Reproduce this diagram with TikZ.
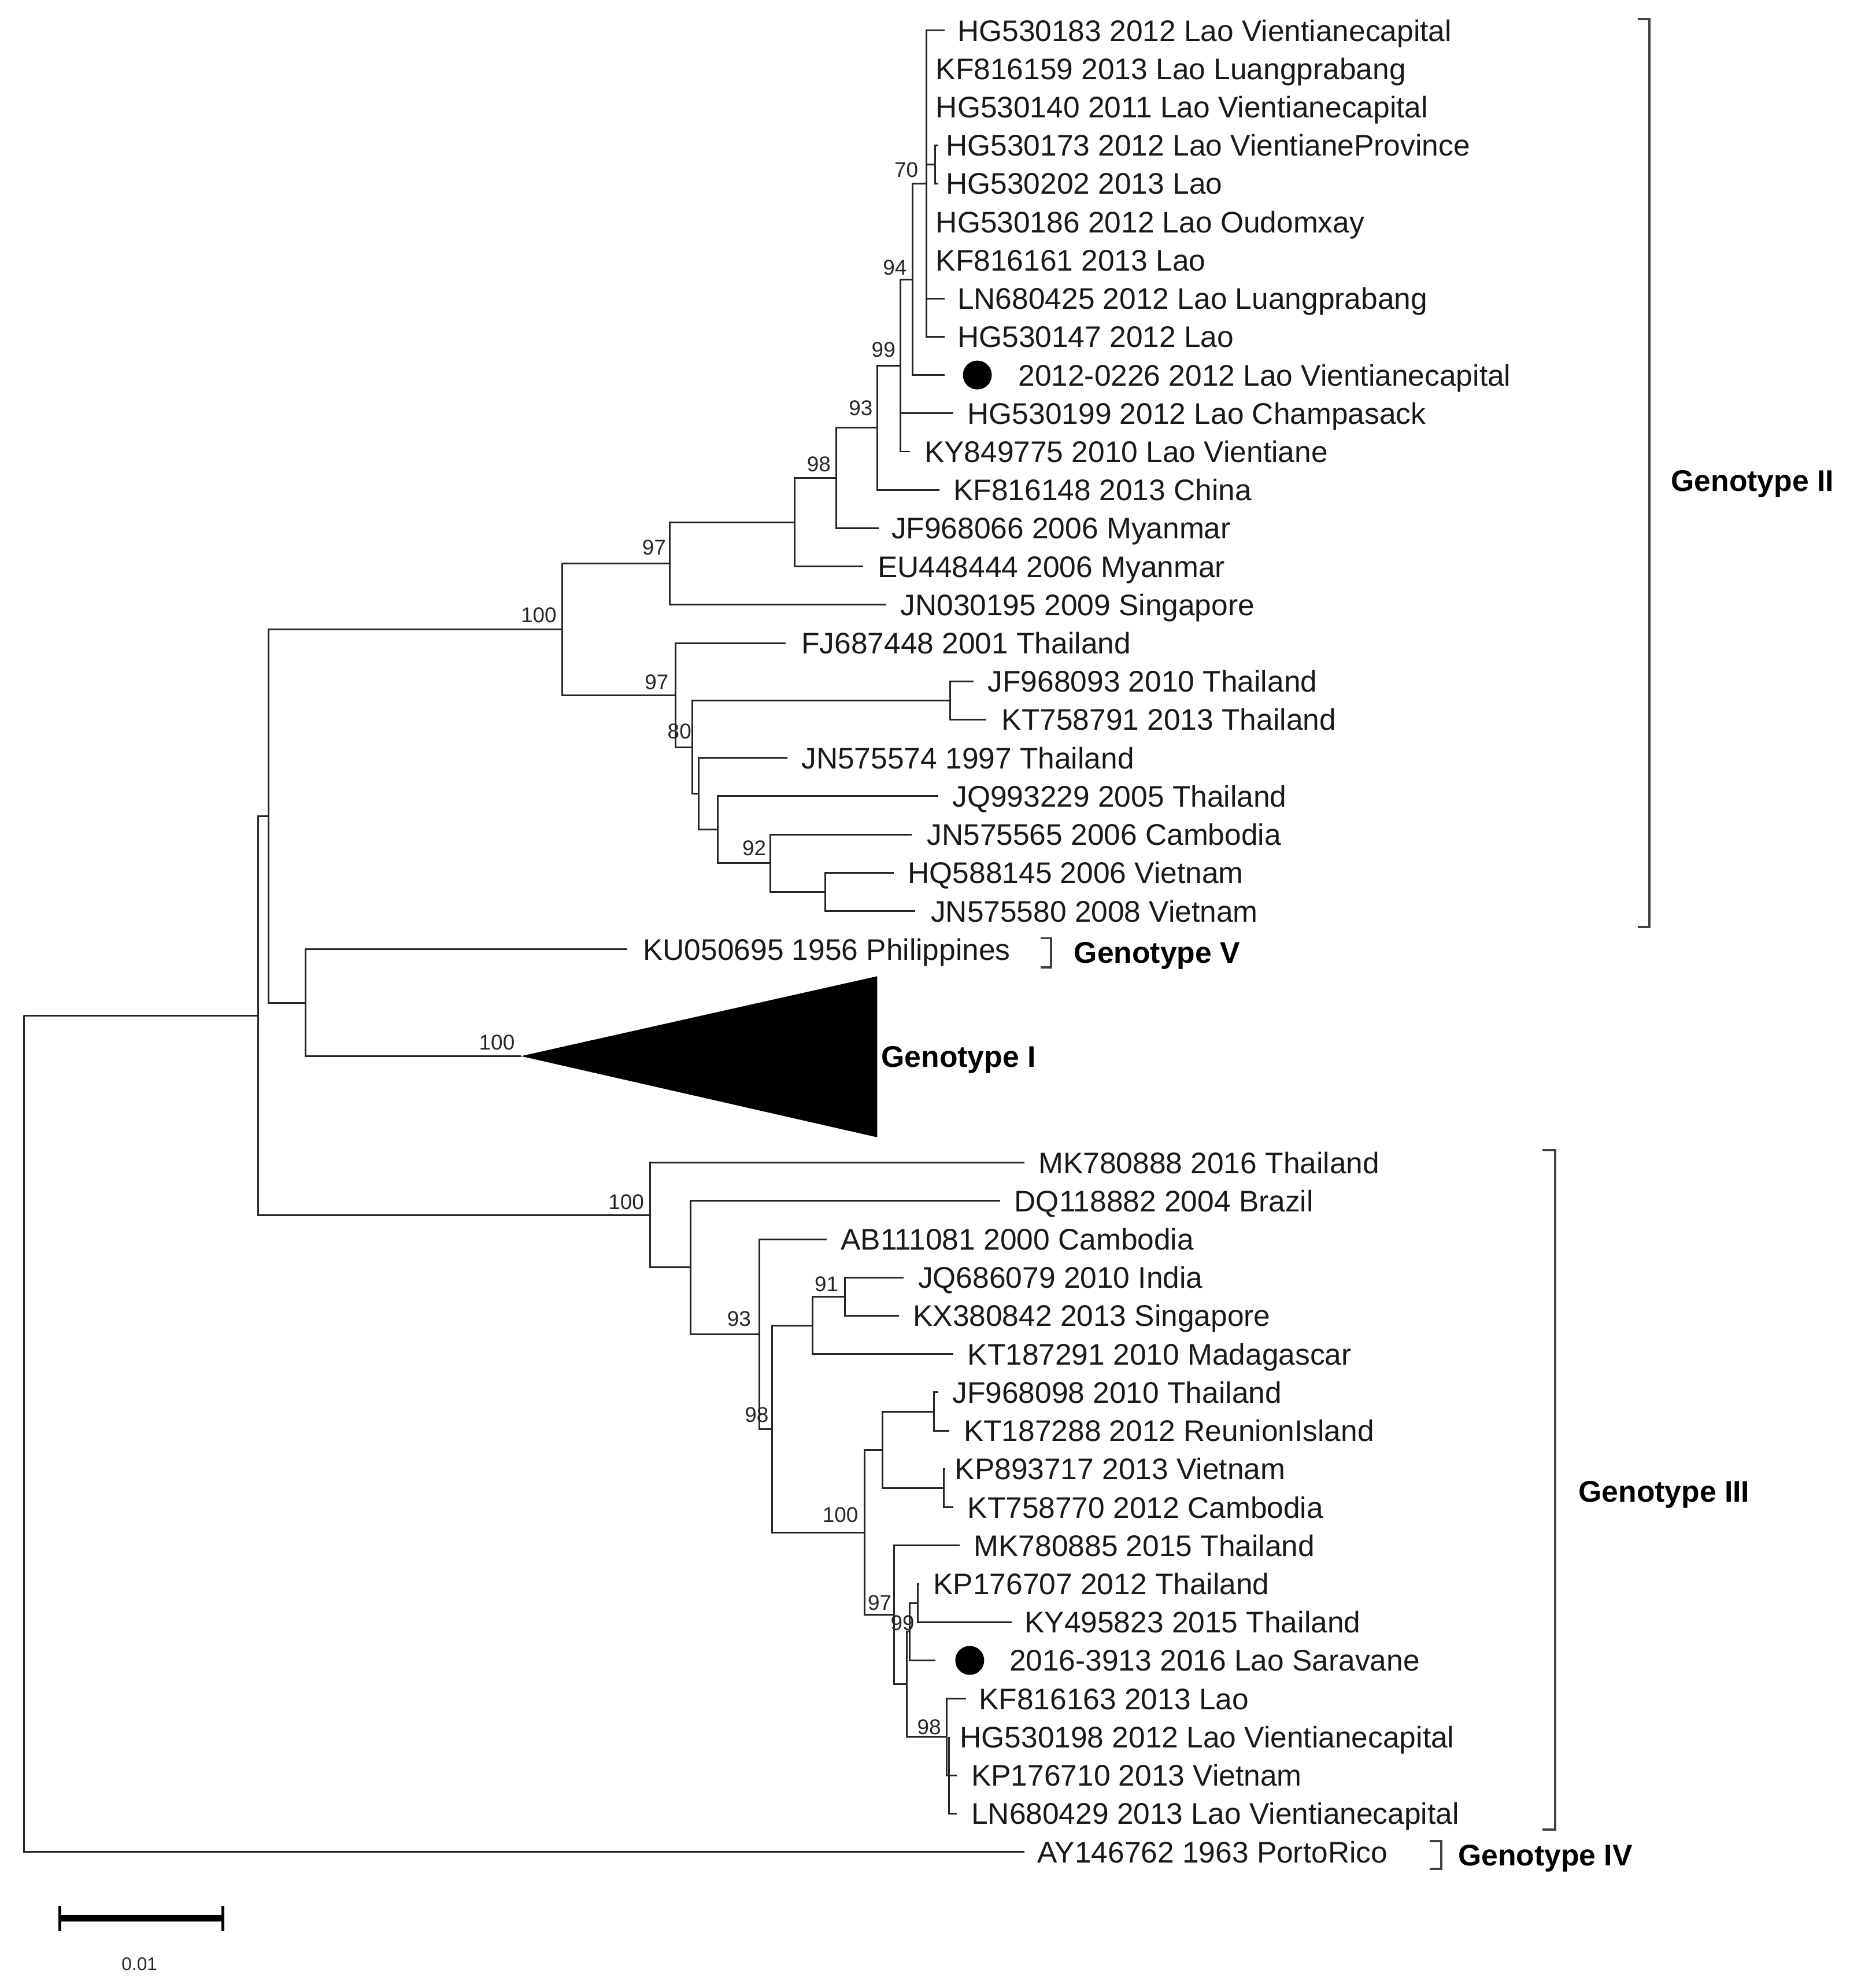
\documentclass[tikz,border=0pt]{standalone}
\usepackage{fontspec}
\setmainfont{Liberation Sans}
\begin{document}
\begin{tikzpicture}[x=0.02192cm,y=-0.02192cm,
  branch/.style={line width=0.85pt, draw=black!85},
  leaf/.style={anchor=west, inner sep=0pt, text height=10.5pt, text depth=0pt, font=\fontsize{14.65}{17}\selectfont, text=black!90},
  boot/.style={inner sep=0pt, font=\fontsize{10.5}{12}\selectfont, text=black!85},
  geno/.style={anchor=west, inner sep=0pt, text height=10.6pt, text depth=0pt, font=\fontsize{14.7}{17}\selectfont\bfseries},
  bracket/.style={line width=1.1pt, draw=black!75},
  dotmark/.style={circle, fill=black, inner sep=0pt, minimum size=0.5cm}]
\useasboundingbox (0,0) rectangle (1459,1568);
\fill[white] (0,0) rectangle (1459,1568);

% ---------- leaves: index / tip x / text x / y / text
\foreach \i/\tx/\lx/\yy/\txt in {
 1/745/755/24.0/HG530183 2012 Lao Vientianecapital,
 2/731/738/54.2/KF816159 2013 Lao Luangprabang,
 3/731/738/84.4/HG530140 2011 Lao Vientianecapital,
 4/740/746/114.6/HG530173 2012 Lao VientianeProvince,
 5/740/746/144.8/HG530202 2013 Lao,
 6/731/738/175.0/HG530186 2012 Lao Oudomxay,
 7/731/738/205.2/KF816161 2013 Lao,
 8/745/755/235.4/LN680425 2012 Lao Luangprabang,
 9/745/755/265.6/HG530147 2012 Lao,
 10/745/803/295.8/2012-0226 2012 Lao Vientianecapital,
 11/752/763/326.0/HG530199 2012 Lao Champasack,
 12/718/729/356.2/KY849775 2010 Lao Vientiane,
 13/741/752/386.4/KF816148 2013 China,
 14/693/703/416.6/JF968066 2006 Myanmar,
 15/681/692/446.8/EU448444 2006 Myanmar,
 16/699/710/477.0/JN030195 2009 Singapore,
 17/620/632/507.2/FJ687448 2001 Thailand,
 18/768/779/537.4/JF968093 2010 Thailand,
 19/778/790/567.6/KT758791 2013 Thailand,
 20/621/632/597.8/JN575574 1997 Thailand,
 21/740/751/628.0/JQ993229 2005 Thailand,
 22/719/731/658.2/JN575565 2006 Cambodia,
 23/705/716/688.4/HQ588145 2006 Vietnam,
 24/722/734/718.6/JN575580 2008 Vietnam,
 25/495/507/748.8/KU050695 1956 Philippines,
 26/808/819/917.0/MK780888 2016 Thailand,
 27/789/800/947.2/DQ118882 2004 Brazil,
 28/652/663/977.4/AB111081 2000 Cambodia,
 29/713/724/1007.6/JQ686079 2010 India,
 30/709/720/1037.8/KX380842 2013 Singapore,
 31/752/763/1068.0/KT187291 2010 Madagascar,
 32/740/751/1098.2/JF968098 2010 Thailand,
 33/749/760/1128.4/KT187288 2012 ReunionIsland,
 34/745.5/753/1158.6/KP893717 2013 Vietnam,
 35/752/763/1188.8/KT758770 2012 Cambodia,
 36/757/768/1219.0/MK780885 2015 Thailand,
 37/725/736/1249.2/KP176707 2012 Thailand,
 38/798/808/1279.4/KY495823 2015 Thailand,
 39/738/796/1309.6/2016-3913 2016 Lao Saravane,
 40/762/772/1339.8/KF816163 2013 Lao,
 41/748.5/757/1370.0/HG530198 2012 Lao Vientianecapital,
 42/755/766/1400.2/KP176710 2013 Vietnam,
 43/755/766/1430.4/LN680429 2013 Lao Vientianecapital,
 44/808/818/1460.6/AY146762 1963 PortoRico}
{
  \coordinate (t\i) at (\tx,\yy);
  \node[leaf] (l\i) at (\lx,\yy) {\txt};
}

% ---------- internal nodes
\coordinate (root) at (19,801);
\coordinate (nA) at (203.5,801);
\coordinate (nD) at (212,643.65);
\coordinate (nGII) at (443.5,496.4);
\coordinate (n97a) at (528.5,444.5);
\coordinate (n627) at (627,411.9);
\coordinate (n98) at (659.5,377);
\coordinate (n93) at (692,337.3);
\coordinate (n99) at (710.5,288.25);
\coordinate (n94) at (720,220.3);
\coordinate (nB) at (731,144.8);
\coordinate (n70) at (737.5,129.7);
\coordinate (n97b) at (533,548.25);
\coordinate (n80) at (546,589.3);
\coordinate (nTT) at (749.5,552.5);
\coordinate (n551) at (551,626.1);
\coordinate (n566) at (566,654.4);
\coordinate (n607) at (607.5,680.85);
\coordinate (n651) at (651,703.5);
\coordinate (nE) at (241,790.9);
\coordinate (apex) at (411,833);
\coordinate (nGIII) at (513,958.35);
\coordinate (n545) at (544.7,999.7);
\coordinate (n599) at (599,1052.2);
\coordinate (n608) at (609,1127);
\coordinate (n641) at (641,1045.35);
\coordinate (n91) at (666.5,1022.7);
\coordinate (n100c) at (682,1208.6);
\coordinate (n696) at (696,1143.5);
\coordinate (nJF) at (737,1113.3);
\coordinate (nKP) at (744.5,1173.7);
\coordinate (n97c) at (705.2,1273.75);
\coordinate (n99b) at (715.3,1328.5);
\coordinate (nX) at (717.6,1287);
\coordinate (nKPa) at (724,1264.3);
\coordinate (n98b) at (746.8,1370);
\coordinate (nsub) at (748.5,1400.2);

% ---------- branches
\foreach \p/\c in {root/nA, root/t44, nA/nD, nA/nGIII, nD/nGII, nD/nE,
  nE/t25, nE/apex, nGII/n97a, nGII/n97b, n97a/n627, n97a/t16,
  n627/n98, n627/t15, n98/n93, n98/t14, n93/n99, n93/t13,
  n99/n94, n99/t11, n99/t12, n94/nB, n94/t10,
  nB/t1, nB/t2, nB/t3, nB/n70, nB/t6, nB/t7, nB/t8, nB/t9, n70/t4, n70/t5,
  n97b/t17, n97b/n80, n80/nTT, n80/n551, nTT/t18, nTT/t19,
  n551/t20, n551/n566, n566/t21, n566/n607, n607/t22, n607/n651,
  n651/t23, n651/t24,
  nGIII/t26, nGIII/n545, n545/t27, n545/n599, n599/t28, n599/n608,
  n608/n641, n608/n100c, n641/n91, n641/t31, n91/t29, n91/t30,
  n100c/n696, n100c/n97c, n696/nJF, n696/nKP, nJF/t32, nJF/t33,
  nKP/t34, nKP/t35, n97c/t36, n97c/n99b, n99b/nX, n99b/n98b,
  nX/nKPa, nX/t39, nKPa/t37, nKPa/t38, n98b/t40, n98b/nsub,
  nsub/t41, nsub/t42, nsub/t43}
  \draw[branch] (\p) |- (\c);

% ---------- collapsed Genotype I clade
\coordinate (triA) at (692,770);
\coordinate (triB) at (692,897);
\fill[black] (apex) -- (triA) -- (triB) -- cycle;

% ---------- marked strains
\node[dotmark] (d1) at (771,295.8) {};
\node[dotmark] (d2) at (765,1309.6) {};

% ---------- bootstrap values
\foreach \n/\bx/\by/\v in {
 b1/715/134/70, b2/706/211/94, b3/697/276/99, b4/679/322/93,
 b5/646/366/98, b6/516/432/97, b7/425/485/100, b8/518/538/97,
 b9/536/577/80, b10/595/669/92, b11/392/822/100, b12/494/948/100,
 b13/583/1040/93, b14/652/1013/91, b15/597/1116/98, b16/663/1195/100,
 b17/694/1264/97, b18/712/1280/99, b19/733/1362/98}
  \node[boot] (\n) at (\bx,\by) {\v};

% ---------- genotype brackets and labels
\coordinate (gIIa) at (1292,15);  \coordinate (gIIb) at (1301,15);
\coordinate (gIIc) at (1301,731); \coordinate (gIId) at (1292,731);
\draw[bracket] (gIIa) -- (gIIb) -- (gIIc) -- (gIId);
\node[geno] (GII) at (1318,379) {Genotype II};

\coordinate (gVa) at (821,740);  \coordinate (gVb) at (829,740);
\coordinate (gVc) at (829,763);  \coordinate (gVd) at (821,763);
\draw[bracket] (gVa) -- (gVb) -- (gVc) -- (gVd);
\node[geno] (GV) at (847,751) {Genotype V};

\node[geno] (GI) at (695,833) {Genotype I};

\coordinate (gIIIa) at (1217,907);  \coordinate (gIIIb) at (1227,907);
\coordinate (gIIIc) at (1227,1443); \coordinate (gIIId) at (1217,1443);
\draw[bracket] (gIIIa) -- (gIIIb) -- (gIIIc) -- (gIIId);
\node[geno] (GIII) at (1245,1176) {Genotype III};

\coordinate (gIVa) at (1128,1452);  \coordinate (gIVb) at (1137,1452);
\coordinate (gIVc) at (1137,1474);  \coordinate (gIVd) at (1128,1474);
\draw[bracket] (gIVa) -- (gIVb) -- (gIVc) -- (gIVd);
\node[geno] (GIV) at (1150,1463) {Genotype IV};

% ---------- scale bar
\coordinate (sbl) at (47,1513); \coordinate (sbr) at (176,1513);
\coordinate (sblt) at (47,1503); \coordinate (sblb) at (47,1523);
\coordinate (sbrt) at (176,1503); \coordinate (sbrb) at (176,1523);
\draw[line width=3.3pt] (sbl) -- (sbr);
\draw[line width=1.4pt] (sblt) -- (sblb);
\draw[line width=1.4pt] (sbrt) -- (sbrb);
\node[inner sep=0pt, font=\fontsize{9}{11}\selectfont, text=black!85] (sblabel) at (110,1549) {0.01};
\end{tikzpicture}
\end{document}
